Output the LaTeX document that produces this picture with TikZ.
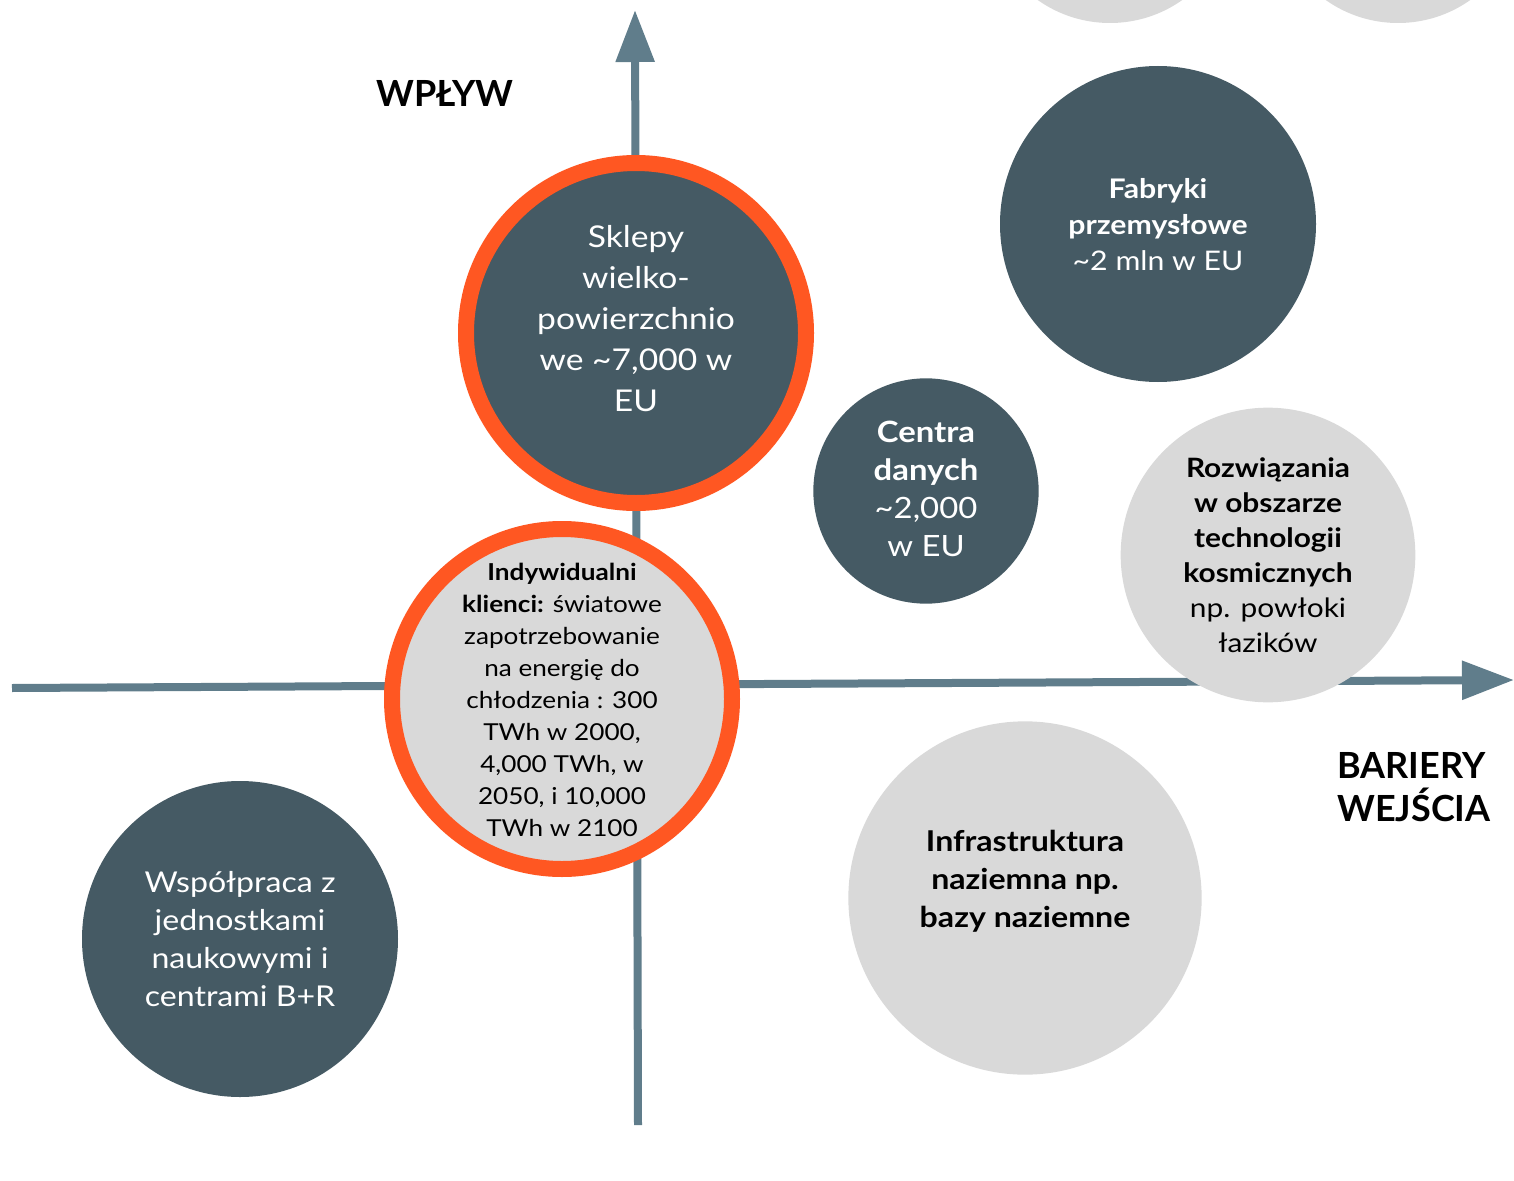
\documentclass[tikz,border=0pt]{standalone}
\usepackage{fontspec}
\setmainfont{Lato}[FakeStretch=1.12]
\newfontfamily\labelfont{Lato}
\usetikzlibrary{arrows.meta}
\definecolor{axisc}{HTML}{607D8B}
\definecolor{darkc}{HTML}{455A64}
\definecolor{lightc}{HTML}{D9D9D9}
\definecolor{orangec}{HTML}{FF5722}
\newcommand{\fs}[2]{\fontsize{#1}{#2}\selectfont}
\tikzset{
  axis/.style={draw=axisc, line width=6pt, -{Triangle[length=39pt,width=28pt]}},
  darkdisc/.style={circle, fill=darkc, inner sep=0pt},
  lightdisc/.style={circle, fill=lightc, inner sep=0pt},
  ringed/.style={draw=orangec, line width=12pt},
  wtxt/.style={text=white, align=center, inner sep=0pt},
  btxt/.style={text=black, align=center, inner sep=0pt},
}
\begin{document}
\begin{tikzpicture}[x=0.75pt,y=-0.75pt]
\useasboundingbox (0,0) rectangle (1514,1181);
% axes
\coordinate (vb) at (638,1125);
\coordinate (vt) at (635,10);
\coordinate (hl) at (12,688);
\coordinate (hr) at (1514,680);
\draw[axis] (vb) -- (vt);
\draw[axis] (hl) -- (hr);
% top partial circles
\node[lightdisc, minimum size=187.5pt] (topA) at (1110,-102) {};
\node[lightdisc, minimum size=187.5pt] (topB) at (1398,-102) {};
% circles
\node[darkdisc, ringed, minimum size=255pt] (sklepy) at (636,333) {};
\node[wtxt, font=\fs{22.5pt}{30.75pt}] (sklepyT) at (636,319)
  {Sklepy\\wielko-\\powierzchnio\\we \textasciitilde7,000 w\\EU};
\node[lightdisc, ringed, minimum size=255pt] (indyw) at (562,699) {};
\node[btxt, font=\fs{17.5pt}{24pt}] (indywT) at (562,700)
  {\textbf{Indywidualni}\\\textbf{klienci:} światowe\\zapotrzebowanie\\na energię do\\chłodzenia : 300\\TWh w 2000,\\4,000 TWh, w\\2050, i 10,000\\TWh w 2100};
\node[darkdisc, minimum size=237pt] (fabryki) at (1158,224) {};
\node[wtxt, font=\fs{20.25pt}{27pt}] (fabrykiT) at (1158,225)
  {\textbf{Fabryki}\\\textbf{przemysłowe}\\\textasciitilde2 mln w EU};
\node[darkdisc, minimum size=169pt] (centra) at (926,491) {};
\node[wtxt, font=\fs{22pt}{28.5pt}] (centraT) at (926,489)
  {\textbf{Centra}\\\textbf{danych}\\\textasciitilde2,000\\w EU};
\node[lightdisc, minimum size=221pt] (rozw) at (1268,555) {};
\node[btxt, font=\fs{20pt}{26.25pt}] (rozwT) at (1268,555)
  {\textbf{Rozwiązania}\\\textbf{w obszarze}\\\textbf{technologii}\\\textbf{kosmicznych}\\np. powłoki\\łazików};
\node[lightdisc, minimum size=265pt] (infra) at (1025,898) {};
\node[btxt, font=\fs{21.5pt}{28.5pt}\bfseries] (infraT) at (1025,881)
  {Infrastruktura\\naziemna np.\\bazy naziemne};
\node[darkdisc, minimum size=237pt] (wspol) at (240,939) {};
\node[wtxt, font=\fs{21.5pt}{28.5pt}] (wspolT) at (240,939)
  {Współpraca z\\jednostkami\\naukowymi i\\centrami B+R};
% axis labels
\node[btxt, font=\labelfont\fs{27pt}{32pt}\bfseries] (wplyw) at (445,93) {WPŁYW};
\node[btxt, align=left, anchor=west, font=\labelfont\fs{27pt}{32.25pt}\bfseries] (bariery) at (1337,787) {BARIERY\\WEJŚCIA};
\end{tikzpicture}
\end{document}
